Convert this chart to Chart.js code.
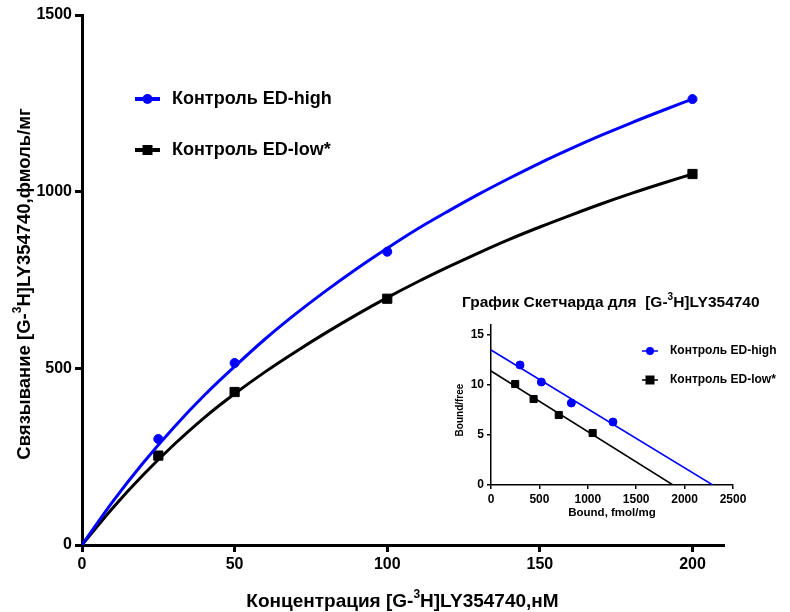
<!DOCTYPE html>
<html>
<head>
<meta charset="utf-8">
<script src="https://cdn.jsdelivr.net/npm/chart.js@4"></script>
<style>
    body { margin: 0; background: #fff; }
    #wrap { position: relative; width: 790px; height: 612px; }
    #mainPlot { position: absolute; left: 0; top: 0; }
    #insetPlot { position: absolute; left: 450px; top: 285px; }
</style>
</head>
<body>
<div id="wrap">
    <canvas id="mainPlot" width="790" height="612"></canvas>
    <canvas id="insetPlot" width="340" height="240"></canvas>
</div>
<script>
// saturation data, [G-3H]LY354740 nM vs bound fmol/mg
const concX = [25, 50, 100, 200];
const highBound = [300, 515, 830, 1262];
const lowBound = [253, 433, 697, 1050];

// fitted curves
const curveX = [0, 10, 20, 30, 40, 50, 60, 70, 80, 90, 100, 110, 120, 130, 140, 150, 160, 170, 180, 190, 200];
const highCurve = [0, 122, 232, 332, 423, 505, 583, 654, 720, 782, 840, 895, 945, 993, 1038, 1081, 1121, 1159, 1195, 1229, 1262];
const lowCurve = [0, 104, 198, 283, 360, 428, 490, 547, 601, 652, 700, 745, 787, 827, 865, 900, 933, 965, 995, 1023, 1050];

const mainXTicks = [0, 50, 100, 150, 200];
const mainYTicks = [0, 500, 1000, 1500];

// Scatchard inset
const scatHighX = [300, 520, 830, 1260];
const scatHighY = [12.0, 10.3, 8.2, 6.3];
const scatLowX = [250, 440, 700, 1050];
const scatLowY = [10.1, 8.6, 7.0, 5.2];
const scatHighLineX = [0, 2290];
const scatHighLineY = [13.5, 0];
const scatLowLineX = [0, 1880];
const scatLowLineY = [11.4, 0];

const insetXTicks = [0, 500, 1000, 1500, 2000, 2500];
const insetYTicks = [0, 5, 10, 15];

const labelHigh = 'Контроль ED-high';
const labelLow = 'Контроль ED-low*';

const BLUE = '#0000ff';
const FONT = '"Liberation Sans", Arial, sans-serif';

const pts = (xs, ys) => xs.map((x, i) => ({ x: x, y: ys[i] }));

// text with a superscript piece: parts = [[text, isSup], ...]
function supWidth(ctx, parts, size) {
    let total = 0;
    parts.forEach(p => {
        ctx.font = 'bold ' + (p[1] ? Math.round(size * 0.65) : size) + 'px ' + FONT;
        total += ctx.measureText(p[0]).width;
    });
    return total;
}

function drawSupText(ctx, parts, cx, cy, size) {
    const total = supWidth(ctx, parts, size);
    let x = cx - total / 2;
    ctx.textBaseline = 'middle';
    ctx.textAlign = 'left';
    parts.forEach(p => {
        ctx.font = 'bold ' + (p[1] ? Math.round(size * 0.65) : size) + 'px ' + FONT;
        ctx.fillText(p[0], x, p[1] ? cy - size * 0.4 : cy);
        x += ctx.measureText(p[0]).width;
    });
}

function drawLegendItem(ctx, x1, x2, y, color, style, r, lw, text, textX, size) {
    ctx.save();
    ctx.strokeStyle = color;
    ctx.fillStyle = color;
    ctx.lineWidth = lw;
    ctx.beginPath();
    ctx.moveTo(x1, y);
    ctx.lineTo(x2, y);
    ctx.stroke();
    const cx = (x1 + x2) / 2;
    ctx.beginPath();
    if (style === 'circle') {
        ctx.arc(cx, y, r, 0, Math.PI * 2);
    } else {
        ctx.rect(cx - r, y - r, 2 * r, 2 * r);
    }
    ctx.fill();
    ctx.fillStyle = '#000';
    ctx.font = 'bold ' + size + 'px ' + FONT;
    ctx.textBaseline = 'middle';
    ctx.textAlign = 'left';
    ctx.fillText(text, textX, y);
    ctx.restore();
}

const mainDecor = {
    id: 'mainDecor',
    afterDraw(chart) {
        const ctx = chart.ctx;
        const area = chart.chartArea;
        ctx.save();
        ctx.fillStyle = '#000';
        drawSupText(ctx, [['Концентрация [G-', false], ['3', true], ['H]LY354740,нМ', false]],
            (area.left + area.right) / 2, 602, 19);
        ctx.translate(25, 284);
        ctx.rotate(-Math.PI / 2);
        drawSupText(ctx, [['Связывание [G-', false], ['3', true], ['H]LY354740,фмоль/мг', false]], 0, 0, 18.5);
        ctx.restore();
        drawLegendItem(ctx, 135, 160, 99, BLUE, 'circle', 5, 4, labelHigh, 172, 18);
        drawLegendItem(ctx, 135, 160, 150, '#000', 'rect', 5, 4, labelLow, 172, 18);
    }
};

const insetDecor = {
    id: 'insetDecor',
    afterDraw(chart) {
        const ctx = chart.ctx;
        ctx.save();
        ctx.fillStyle = '#000';
        const parts = [['График Скетчарда для  [G-', false], ['3', true], ['H]LY354740', false]];
        const w = supWidth(ctx, parts, 15.5);
        drawSupText(ctx, parts, 12 + w / 2, 18, 15.5);
        ctx.font = 'bold 11.5px ' + FONT;
        ctx.textAlign = 'center';
        ctx.textBaseline = 'middle';
        ctx.fillText('Bound, fmol/mg', 162, 228);
        ctx.translate(10, 125);
        ctx.rotate(-Math.PI / 2);
        ctx.font = 'bold 10px ' + FONT;
        ctx.fillText('Bound/free', 0, 0);
        ctx.restore();
        drawLegendItem(ctx, 192, 208, 66, BLUE, 'circle', 4, 1.5, labelHigh, 220, 12);
        drawLegendItem(ctx, 192, 208, 95, '#000', 'rect', 4.5, 1.5, labelLow, 220, 12);
    }
};

function axisOpts(min, max, tickVals, lw, tickLen, fontSize, fitKey, fitVal) {
    return {
        type: 'linear',
        min: min,
        max: max,
        afterBuildTicks: s => { s.ticks = tickVals.map(v => ({ value: v })); },
        afterFit: s => { s[fitKey] = fitVal; },
        border: { display: true, color: '#000', width: lw },
        grid: { drawOnChartArea: false, drawTicks: true, tickLength: tickLen, color: '#000', lineWidth: lw },
        ticks: {
            color: '#000',
            padding: 3,
            callback: v => String(v),
            font: { family: FONT, weight: 'bold', size: fontSize }
        }
    };
}

new Chart(document.getElementById('mainPlot'), {
    type: 'scatter',
    data: {
        datasets: [{
            data: pts(curveX, highCurve),
            showLine: true,
            borderColor: BLUE,
            borderWidth: 3,
            radius: 0,
            cubicInterpolationMode: 'monotone'
        }, {
            data: pts(curveX, lowCurve),
            showLine: true,
            borderColor: '#000',
            borderWidth: 3,
            radius: 0,
            cubicInterpolationMode: 'monotone'
        }, {
            data: pts(concX, highBound),
            pointStyle: 'circle',
            radius: 4.5,
            backgroundColor: BLUE,
            borderColor: BLUE
        }, {
            data: pts(concX, lowBound),
            pointStyle: 'rect',
            radius: 6.5,
            backgroundColor: '#000',
            borderColor: '#000'
        }]
    },
    options: {
        responsive: false,
        animation: false,
        devicePixelRatio: 1,
        layout: { padding: { left: 0, right: 67, top: 15, bottom: 0 } },
        plugins: { legend: { display: false }, tooltip: { enabled: false } },
        scales: {
            x: axisOpts(0, 210, mainXTicks, 3, 7, 16, 'height', 67),
            y: axisOpts(0, 1500, mainYTicks, 3, 7, 16, 'width', 82)
        }
    },
    plugins: [mainDecor]
});

new Chart(document.getElementById('insetPlot'), {
    type: 'scatter',
    data: {
        datasets: [{
            data: pts(scatHighLineX, scatHighLineY),
            showLine: true,
            borderColor: BLUE,
            borderWidth: 1.5,
            radius: 0
        }, {
            data: pts(scatLowLineX, scatLowLineY),
            showLine: true,
            borderColor: '#000',
            borderWidth: 1.5,
            radius: 0
        }, {
            data: pts(scatHighX, scatHighY),
            pointStyle: 'circle',
            radius: 4,
            backgroundColor: BLUE,
            borderColor: BLUE
        }, {
            data: pts(scatLowX, scatLowY),
            pointStyle: 'rect',
            radius: 5,
            backgroundColor: '#000',
            borderColor: '#000'
        }]
    },
    options: {
        responsive: false,
        animation: false,
        devicePixelRatio: 1,
        layout: { padding: { left: 0, right: 57, top: 40, bottom: 0 } },
        plugins: { legend: { display: false }, tooltip: { enabled: false } },
        scales: {
            x: axisOpts(0, 2500, insetXTicks, 1.5, 4, 12, 'height', 40),
            y: axisOpts(0, 16, insetYTicks, 1.5, 4, 12, 'width', 41)
        }
    },
    plugins: [insetDecor]
});
</script>
</body>
</html>
